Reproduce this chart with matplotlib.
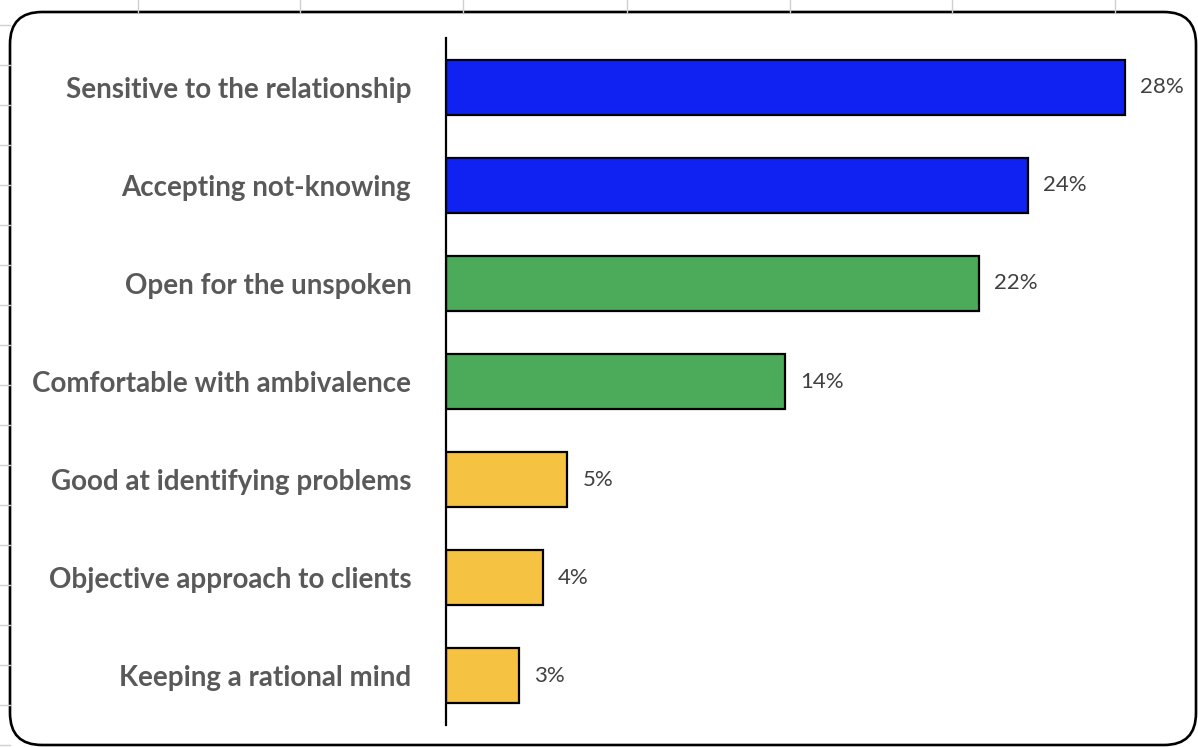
import matplotlib
matplotlib.use("Agg")
import matplotlib.pyplot as plt
import matplotlib.transforms as mtransforms
from matplotlib.patches import FancyBboxPatch
from matplotlib.lines import Line2D

categories = [
    "Sensitive to the relationship",
    "Accepting not-knowing",
    "Open for the unspoken",
    "Comfortable with ambivalence",
    "Good at identifying problems",
    "Objective approach to clients",
    "Keeping a rational mind",
]
values = [28, 24, 22, 14, 5, 4, 3]
value_labels = ["28%", "24%", "22%", "14%", "5%", "4%", "3%"]
colors = ["#0f22f2", "#0f22f2", "#4caa5b", "#4caa5b", "#f5c242", "#f5c242", "#f5c242"]

W, H = 1198, 747
fig = plt.figure(figsize=(W / 100, H / 100), dpi=100)
fig.patch.set_facecolor("white")

# worksheet grid peeking out behind the chart frame
pix = mtransforms.IdentityTransform()
for gx in [138, 300, 463, 627, 790, 952, 1115]:
    fig.add_artist(Line2D([gx, gx], [H - 12, H], transform=pix, color="#d0d0d0", lw=1))
for gy in range(25, 746, 40):
    fig.add_artist(Line2D([0, 10], [H - gy, H - gy], transform=pix, color="#d0d0d0", lw=1))

# rounded chart frame
frame = FancyBboxPatch((10, H - 745), 1186, 733,
                       boxstyle="round,pad=0,rounding_size=32",
                       transform=pix, facecolor="white", edgecolor="black",
                       linewidth=1.9, zorder=1)
fig.add_artist(frame)

ax = fig.add_axes([446 / W, 22 / H, 727 / W, 687 / H], zorder=2)
ax.set_facecolor("none")
y = list(range(len(categories)))
ax.barh(y, values, height=0.56, color=colors, edgecolor="black", linewidth=1.6)
ax.set_xlim(0, 30)
ax.set_ylim(len(categories) - 0.5, -0.5)

for yi, v, lab in zip(y, values, value_labels):
    ax.annotate(lab, (v, yi), xytext=(11, 0), textcoords="offset points",
                va="center", ha="left", fontsize=16, color="#404040",
                family="Lato")

ax.set_yticks(y)
ax.set_yticklabels(categories, fontsize=20, fontweight="bold", color="#595959",
                   family="Lato")
ax.tick_params(axis="y", length=0, pad=25)
ax.set_xticks([])
for s in ["top", "right", "bottom"]:
    ax.spines[s].set_visible(False)
ax.spines["left"].set_linewidth(1.6)

fig.savefig("out.png", dpi=100)
